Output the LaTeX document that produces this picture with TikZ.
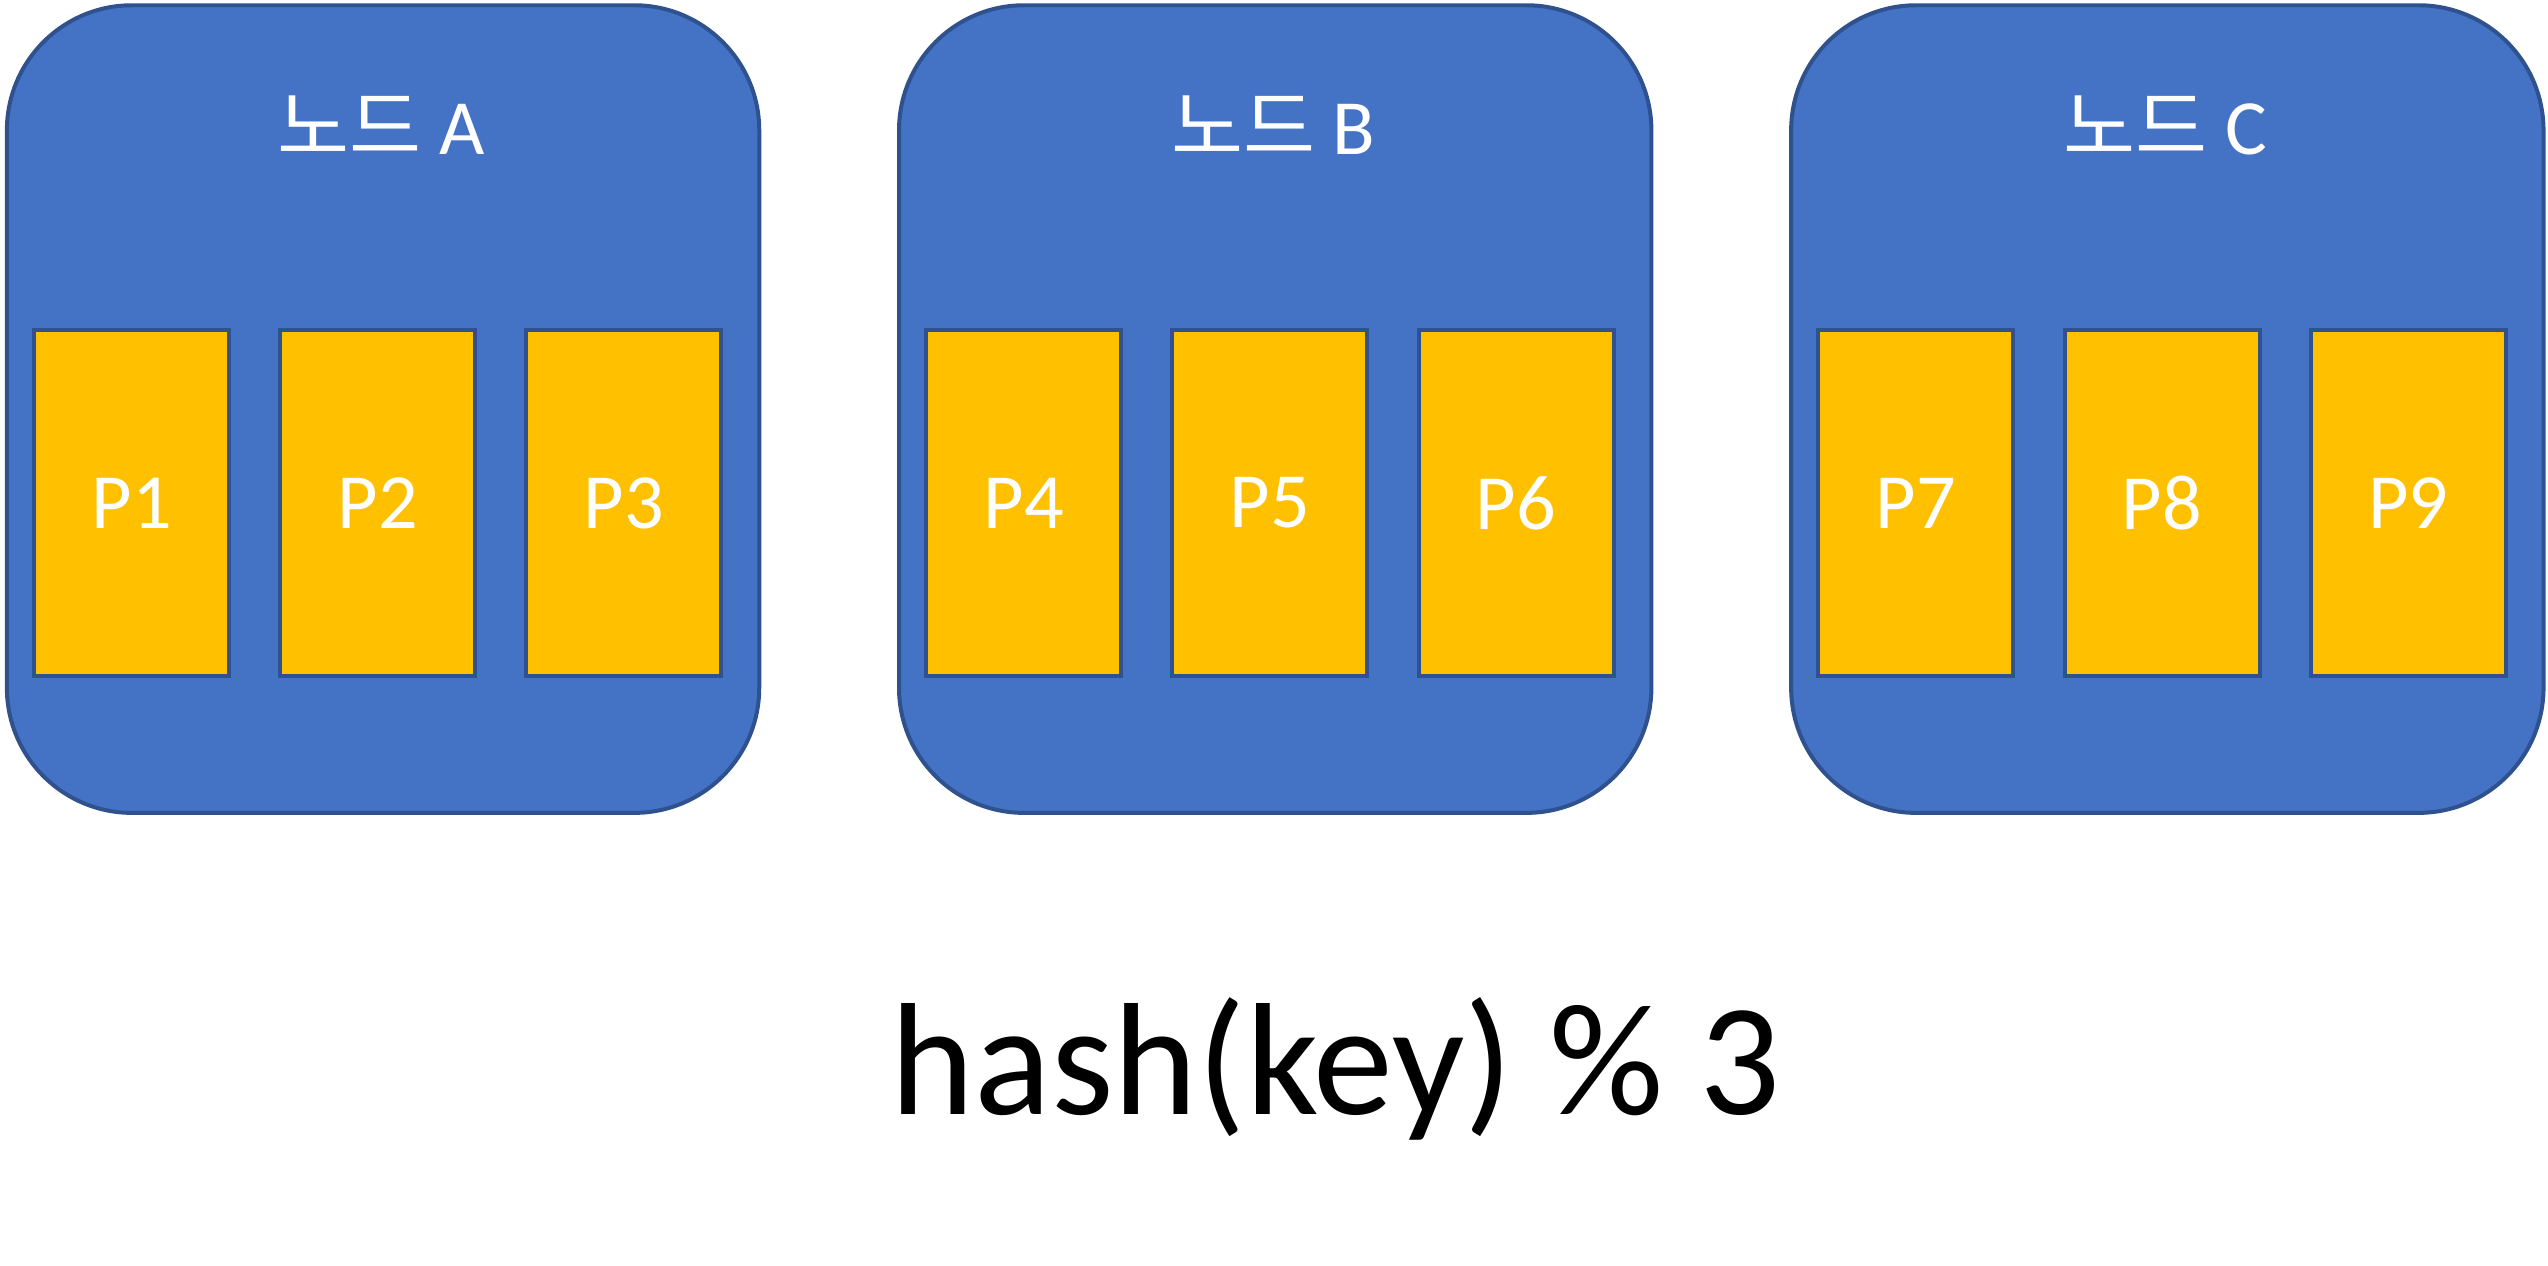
\documentclass[tikz,border=0pt]{standalone}
\usepackage{fontspec}
\setmainfont{Carlito}
\newfontfamily\krfont{Noto Sans CJK KR}
\usepackage{tikz}
\usetikzlibrary{positioning}
\definecolor{nodeblue}{HTML}{4472C4}
\definecolor{nodeedge}{HTML}{2F528F}
\definecolor{partyellow}{HTML}{FFC000}
\tikzstyle{server} = [rectangle, rounded corners=0.77cm, draw=nodeedge, line width=0.7pt, fill=nodeblue, minimum width=4.63cm, minimum height=4.97cm, inner sep=0pt, anchor=north west]
\tikzstyle{part} = [rectangle, draw=nodeedge, line width=0.7pt, fill=partyellow, minimum width=1.2cm, minimum height=2.13cm, inner sep=0pt, text=white, font=\fontsize{13.7}{16}\selectfont]
\tikzstyle{title} = [text=white, font=\fontsize{13.7}{16}\selectfont, anchor=base]
\begin{document}
\begin{tikzpicture}[node distance = 0.29cm]
	\useasboundingbox (0,0) rectangle (15.68,7.785);
	\node (NodeA) [server] at (0.03,7.765) {};
	\node (NodeB) [server] at (5.52,7.765) {};
	\node (NodeC) [server] at (11.01,7.765) {};
	\node (TitleA) [title] at (2.345,6.835) {{\krfont 노드} A};
	\node (TitleB) [title] at (7.835,6.835) {{\krfont 노드} B};
	\node (TitleC) [title] at (13.325,6.835) {{\krfont 노드} C};
	\node (P1) [part] at (0.81,4.69) {P1};
	\node (P2) [part, right = of P1] {P2};
	\node (P3) [part, right = of P2] {P3};
	\node (P4) [part] at (6.30,4.69) {P4};
	\node (P5) [part, right = of P4] {P5};
	\node (P6) [part, right = of P5] {P6};
	\node (P7) [part] at (11.79,4.69) {P7};
	\node (P8) [part, right = of P7] {P8};
	\node (P9) [part, right = of P8] {P9};
	\node (Formula) [font=\fontsize{28}{34}\selectfont, anchor=base] at (8.22,0.925) {hash(key) \% 3};
\end{tikzpicture}
\end{document}
